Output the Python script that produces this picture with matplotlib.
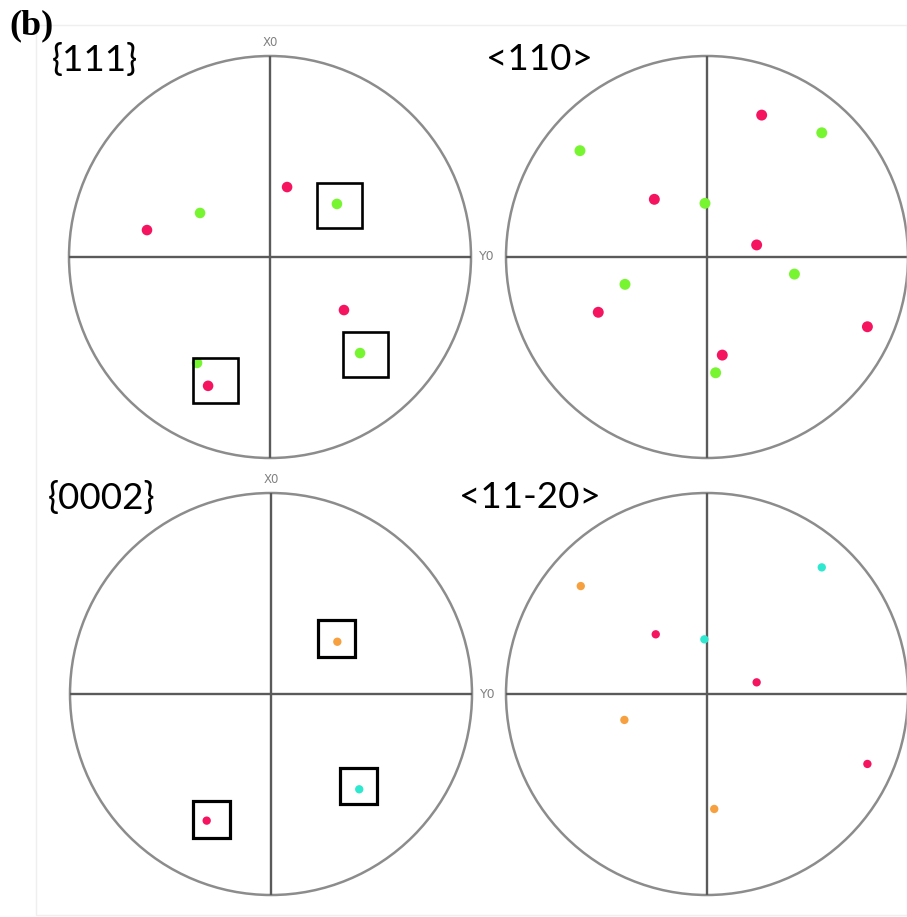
import numpy as np
import matplotlib
matplotlib.use("Agg")
import matplotlib.pyplot as plt
from matplotlib.patches import Circle, Rectangle

# ---------------------------------------------------------------------------
# Pole figure data (normalised stereographic coordinates, radius = 1)
# ---------------------------------------------------------------------------
RED    = '#f5145f'
GREEN  = '#77f530'
ORANGE = '#f7a040'
CYAN   = '#2ee8d0'

# {111}
p111_x   = [-0.612, -0.348, 0.085, 0.333, 0.368, 0.448, -0.363, -0.308]
p111_y   = [ 0.134,  0.219, 0.348, 0.264, -0.264, -0.478, -0.527, -0.641]
p111_c   = [RED, GREEN, RED, GREEN, RED, GREEN, GREEN, RED]
box111_x = [0.346, 0.473, -0.269]
box111_y = [0.256, -0.483, -0.612]

# <110>
p110_x = [0.272, 0.571, -0.632, -0.262, -0.010, 0.247, 0.435, -0.408, -0.541, 0.798, 0.076, 0.043]
p110_y = [0.706, 0.618,  0.529,  0.287,  0.267, 0.060, -0.085, -0.136, -0.275, -0.347, -0.488, -0.576]
p110_c = [RED, GREEN, GREEN, RED, GREEN, RED, GREEN, GREEN, RED, RED, RED, GREEN]

# {0002}
p0002_x   = [0.330, 0.439, -0.320]
p0002_y   = [0.260, -0.474, -0.630]
p0002_c   = [ORANGE, CYAN, RED]
box0002_x = [0.327, 0.434, -0.297]
box0002_y = [0.277, -0.458, -0.625]

# <11-20>
p1120_x = [0.571, -0.628, -0.255, -0.013, 0.247, -0.411, 0.798, 0.036]
p1120_y = [0.630,  0.537,  0.297,  0.272, 0.058, -0.129, -0.348, -0.572]
p1120_c = [CYAN, ORANGE, RED, CYAN, RED, ORANGE, RED, ORANGE]

# ---------------------------------------------------------------------------
W, H = 907, 917
R_PX = 201
fig = plt.figure(figsize=(W / 100, H / 100), dpi=100)
fig.patch.set_facecolor('white')

# faint frame of the original panel
fig.patches.append(Rectangle((36 / W, 1 - 915 / H), (W - 36) / W, (915 - 25) / H,
                             transform=fig.transFigure, fill=False,
                             edgecolor='#efefef', linewidth=1.0))


def pole_axes(cx, cy):
    ax = fig.add_axes([(cx - R_PX) / W, 1 - (cy + R_PX) / H, 2 * R_PX / W, 2 * R_PX / H])
    ax.set_xlim(-1, 1)
    ax.set_ylim(-1, 1)
    ax.axis('off')
    ax.add_patch(Circle((0, 0), 1, fill=False, edgecolor='#8c8c8c', linewidth=1.8, clip_on=False))
    ax.plot([-1, 1], [0, 0], color='#5a5a5a', linewidth=1.7)
    ax.plot([0, 0], [-1, 1], color='#5a5a5a', linewidth=1.7)
    return ax


def boxes(ax, xs, ys, half, lw):
    for x, y in zip(xs, ys):
        ax.add_patch(Rectangle((x - half, y - half), 2 * half, 2 * half, fill=False,
                               edgecolor='black', linewidth=lw, zorder=4))


def axis_labels(ax):
    ax.text(0, 1.065, 'X0', color='#808080', fontsize=8.5, ha='center', va='center', clip_on=False)
    ax.text(1.08, 0, 'Y0', color='#808080', fontsize=9, ha='center', va='center', clip_on=False)


ax1 = pole_axes(270, 257)
ax1.scatter(p111_x, p111_y, c=p111_c, s=58, edgecolors='none', zorder=3)
boxes(ax1, box111_x, box111_y, 0.112, 1.9)
axis_labels(ax1)

ax2 = pole_axes(707, 257)
ax2.scatter(p110_x, p110_y, c=p110_c, s=62, edgecolors='none', zorder=3)

ax3 = pole_axes(271, 694)
ax3.scatter(p0002_x, p0002_y, c=p0002_c, s=36, edgecolors='none', zorder=3)
boxes(ax3, box0002_x, box0002_y, 0.091, 2.3)
axis_labels(ax3)

ax4 = pole_axes(707, 694)
ax4.scatter(p1120_x, p1120_y, c=p1120_c, s=36, edgecolors='none', zorder=3)

# panel titles
lab = dict(fontsize=26.5, family=['Lato', 'DejaVu Sans'], color='black', va='center', ha='left')
fig.text(52 / W, 1 - 60 / H, '{111}', **lab)
fig.text(486 / W, 1 - 60 / H, '<110>', **lab)
fig.text(48 / W, 1 - 498 / H, '{0002}', **lab)
fig.text(459 / W, 1 - 498 / H, '<11-20>', **lab)
fig.text(9 / W, 1 - 26 / H, '(b)', fontsize=26, fontweight='bold',
         family=['Liberation Serif', 'DejaVu Serif'], va='center', ha='left')

fig.savefig('out.png', dpi=100, facecolor='white')
